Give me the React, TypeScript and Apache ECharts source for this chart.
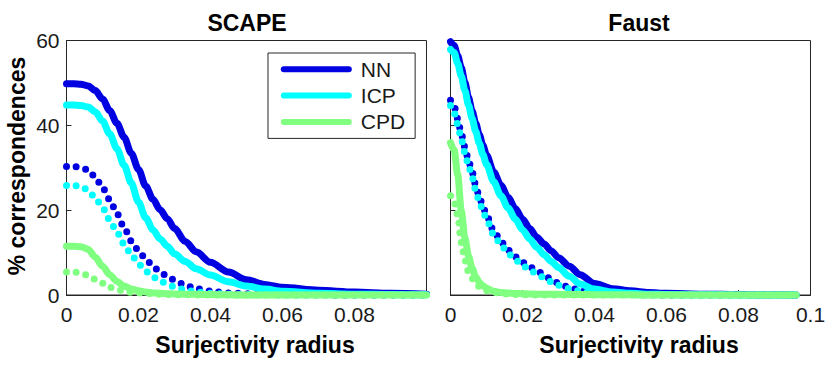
import React, { useEffect, useRef } from "react";
import * as echarts from "echarts";

// ---------- data ----------
const scapeX = [0, 0.002, 0.004, 0.006, 0.008, 0.01, 0.012, 0.014, 0.016, 0.018, 0.02, 0.022, 0.024, 0.026, 0.028, 0.03, 0.033, 0.036, 0.04, 0.045, 0.05, 0.055, 0.06, 0.07, 0.08, 0.09, 0.1];
const scapeNN = [49.8, 49.8, 49.7, 49.3, 48.2, 46.2, 43.5, 40.5, 37.2, 33.4, 29.6, 25.7, 22.6, 20.1, 18.0, 15.7, 12.6, 10.2, 7.7, 5.4, 3.6, 2.5, 1.8, 1.1, 0.7, 0.4, 0.2];
const scapeICP = [44.8, 44.8, 44.7, 44.3, 43.2, 41.0, 38.0, 34.5, 30.6, 26.4, 21.9, 18.2, 15.4, 13.2, 11.5, 9.7, 7.9, 6.2, 4.7, 3.1, 2.1, 1.4, 0.9, 0.4, 0.2, 0.1, 0.05];
const scapeCPD = [11.5, 11.5, 11.4, 10.8, 8.9, 6.8, 4.8, 3.2, 2.1, 1.4, 1.0, 0.7, 0.5, 0.4, 0.3, 0.25, 0.2, 0.15, 0.1, 0.05, 0, 0, 0, 0, 0, 0, 0];
const scapeNNDot = [30.3, 30.3, 30.1, 29.5, 27.8, 25.3, 22.5, 19.2, 15.9, 12.7, 10.5, 8.5, 6.8, 5.4, 4.4, 3.5, 2.3, 1.5, 0.9, 0.5, 0.3, 0.2, 0.1, 0.05, 0, 0, 0];
const scapeICPDot = [25.8, 25.8, 25.6, 24.7, 22.9, 20.6, 17.7, 14.8, 12.0, 9.5, 7.3, 5.6, 4.3, 3.3, 2.6, 1.9, 1.2, 0.7, 0.4, 0.2, 0.1, 0.05, 0, 0, 0, 0, 0];
const scapeCPDDot = [5.4, 5.4, 5.2, 4.6, 3.7, 2.8, 1.8, 1.3, 0.9, 0.65, 0.5, 0.4, 0.3, 0.2, 0.15, 0.1, 0.05, 0, 0, 0, 0, 0, 0, 0, 0, 0, 0];

const faustX = [0, 0.001, 0.002, 0.003, 0.004, 0.005, 0.006, 0.007, 0.008, 0.009, 0.01, 0.012, 0.014, 0.016, 0.018, 0.02, 0.022, 0.024, 0.026, 0.028, 0.03, 0.033, 0.036, 0.04, 0.045, 0.05, 0.055, 0.06, 0.07, 0.08, 0.09, 0.096];
const faustNN = [59.7, 58.8, 56.4, 53.6, 50.1, 46.6, 43.4, 40.5, 37.8, 35.3, 33.0, 29.0, 25.9, 23.0, 20.4, 17.9, 15.7, 13.6, 12.0, 10.4, 8.8, 6.8, 4.8, 2.7, 1.5, 1.0, 0.6, 0.4, 0.2, 0.1, 0.05, 0.02];
const faustICP = [57.9, 57.2, 54.6, 51.6, 48.2, 44.8, 41.6, 38.6, 35.8, 33.1, 30.8, 26.7, 23.4, 20.5, 17.9, 15.4, 13.2, 11.2, 9.5, 7.9, 6.5, 4.4, 2.6, 1.4, 0.7, 0.4, 0.2, 0.1, 0.05, 0.02, 0, 0];
const faustCPD = [35.9, 34.2, 28.4, 19.8, 13.5, 9.2, 6.3, 4.3, 3.0, 2.2, 1.6, 0.9, 0.6, 0.45, 0.35, 0.3, 0.25, 0.2, 0.2, 0.15, 0.15, 0.1, 0.1, 0.08, 0.05, 0.03, 0, 0, 0, 0, 0, 0];
const faustNNDot = [45.9, 44.5, 41.6, 38.0, 34.9, 31.7, 29.0, 25.9, 23.1, 21.0, 18.8, 15.2, 12.6, 10.6, 9.0, 7.7, 6.6, 5.7, 4.8, 3.6, 2.8, 1.8, 1.1, 0.5, 0.2, 0.1, 0.05, 0, 0, 0, 0, 0];
const faustICPDot = [44.7, 43.0, 40.3, 36.7, 33.6, 30.5, 27.8, 24.7, 22.0, 19.9, 17.8, 14.3, 11.8, 9.8, 8.3, 7.0, 5.9, 5.0, 4.1, 3.1, 2.3, 1.5, 0.9, 0.4, 0.15, 0.05, 0, 0, 0, 0, 0, 0];
const faustCPDDot = [23.4, 22.0, 18.8, 12.4, 8.3, 5.5, 3.9, 2.8, 2.0, 1.3, 1.0, 0.6, 0.3, 0.2, 0.1, 0.05, 0, 0, 0, 0, 0, 0, 0, 0, 0, 0, 0, 0, 0, 0, 0, 0];

const methods = ["NN", "ICP", "CPD"];
const panelTitles = ["SCAPE", "Faust"];
const xAxisTitle = "Surjectivity radius";
const yAxisTitle = "% correspondences";
const yTicks = { min: 0, max: 60, interval: 20 };
const xTicks = { min: 0, max: 0.1, interval: 0.02 };

// ---------- styling ----------
const FONT = "'Liberation Sans', Arial, Helvetica, sans-serif";
const COLORS: Record<string, string> = { NN: "#0000e0", ICP: "#00ffff", CPD: "#80ff80" };
const AXIS_COLOR = "#262626";
const GRIDS = [
  { left: 66.5, top: 40.5, width: 360, height: 254.5 },
  { left: 450.5, top: 40.5, width: 360, height: 254.5 },
];

function pairs(xs: number[], ys: number[]) {
  return xs.map((x, i) => [x, ys[i]]);
}

function makeSeries(g: number, name: string, xs: number[], ys: number[], dotted: boolean, z: number) {
  const color = COLORS[name];
  return {
    type: "line",
    name: dotted ? name + " (dotted)" : name,
    xAxisIndex: g,
    yAxisIndex: g,
    data: pairs(xs, ys),
    symbol: "none",
    showSymbol: false,
    smooth: 0.3,
    smoothMonotone: "x",
    clip: false,
    silent: true,
    z,
    itemStyle: { color },
    emphasis: { disabled: true },
    lineStyle: dotted
      ? { color, width: 7, type: [0, 9.7], cap: "round", join: "round" }
      : { color, width: 7, cap: "round", join: "round" },
  };
}

function fmt(v: number) {
  return String(+Number(v).toFixed(4));
}

export default function App() {
  const ref = useRef<HTMLDivElement>(null);
  useEffect(() => {
    if (!ref.current) return;
    const chart = echarts.init(ref.current, null, { renderer: "svg" });
    const sets = [
      { x: scapeX, solid: [scapeNN, scapeICP, scapeCPD], dot: [scapeNNDot, scapeICPDot, scapeCPDDot] },
      { x: faustX, solid: [faustNN, faustICP, faustCPD], dot: [faustNNDot, faustICPDot, faustCPDDot] },
    ];
    const series: any[] = [];
    sets.forEach((s, g) => {
      methods.forEach((m, k) => {
        series.push(makeSeries(g, m, s.x, s.solid[k], false, 2 + k * 2));
        series.push(makeSeries(g, m, s.x, s.dot[k], true, 3 + k * 2));
      });
    });

    const option: any = {
      animation: false,
      backgroundColor: "#ffffff",
      grid: GRIDS.map((g) => ({ ...g, show: true, borderColor: AXIS_COLOR, borderWidth: 1, backgroundColor: "transparent", containLabel: false })),
      xAxis: GRIDS.map((_, g) => ({
        gridIndex: g,
        type: "value",
        min: xTicks.min,
        max: xTicks.max,
        interval: xTicks.interval,
        axisLine: { show: true, onZero: false, lineStyle: { color: AXIS_COLOR, width: 1 } },
        axisTick: { show: true, inside: true, length: 5, lineStyle: { color: AXIS_COLOR } },
        splitLine: { show: false },
        axisLabel: {
          show: true,
          margin: 9,
          fontSize: 21,
          fontFamily: FONT,
          color: "#1a1a1a",
          showMaxLabel: g === 1,
          showMinLabel: true,
          formatter: fmt,
        },
      })),
      yAxis: GRIDS.map((_, g) => ({
        gridIndex: g,
        type: "value",
        min: yTicks.min,
        max: yTicks.max,
        interval: yTicks.interval,
        axisLine: { show: true, onZero: false, lineStyle: { color: AXIS_COLOR, width: 1 } },
        axisTick: { show: true, inside: true, length: 5, lineStyle: { color: AXIS_COLOR } },
        splitLine: { show: false },
        axisLabel: {
          show: g === 0,
          margin: 7,
          fontSize: 21,
          fontFamily: FONT,
          color: "#1a1a1a",
          formatter: fmt,
        },
      })),
      legend: {
        data: methods,
        orient: "vertical",
        left: 268,
        top: 53,
        padding: [5.8, 10, 6, 12.8],
        itemWidth: 65,
        itemHeight: 5,
        itemGap: 5.3,
        borderColor: AXIS_COLOR,
        borderWidth: 1,
        backgroundColor: "#ffffff",
        selectedMode: false,
        itemStyle: { color: "rgba(0,0,0,0)", borderWidth: 0 },
        lineStyle: { width: 6, cap: "round" },
        textStyle: { fontSize: 21, fontFamily: FONT, color: "#1a1a1a", lineHeight: 21, padding: [0, 0, 0, 7] },
      },
      graphic: [
        ...panelTitles.map((t, i) => ({
          type: "text",
          x: i === 0 ? 247 : 639,
          y: 23,
          silent: true,
          style: { text: t, font: `bold 23px ${FONT}`, fill: "#000", align: "center", verticalAlign: "middle" },
        })),
        ...[255, 639].map((cx) => ({
          type: "text",
          x: cx,
          y: 345,
          silent: true,
          style: { text: xAxisTitle, font: `bold 23px ${FONT}`, fill: "#000", align: "center", verticalAlign: "middle" },
        })),
        {
          type: "text",
          x: 17,
          y: 166,
          rotation: Math.PI / 2,
          silent: true,
          style: { text: yAxisTitle, font: `bold 23px ${FONT}`, fill: "#000", align: "center", verticalAlign: "middle" },
        },
      ],
      series,
    };
    chart.setOption(option);
    return () => chart.dispose();
  }, []);
  return <div ref={ref} style={{ position: "fixed", left: 0, top: 0, width: 830, height: 368, background: "#fff" }} />;
}
